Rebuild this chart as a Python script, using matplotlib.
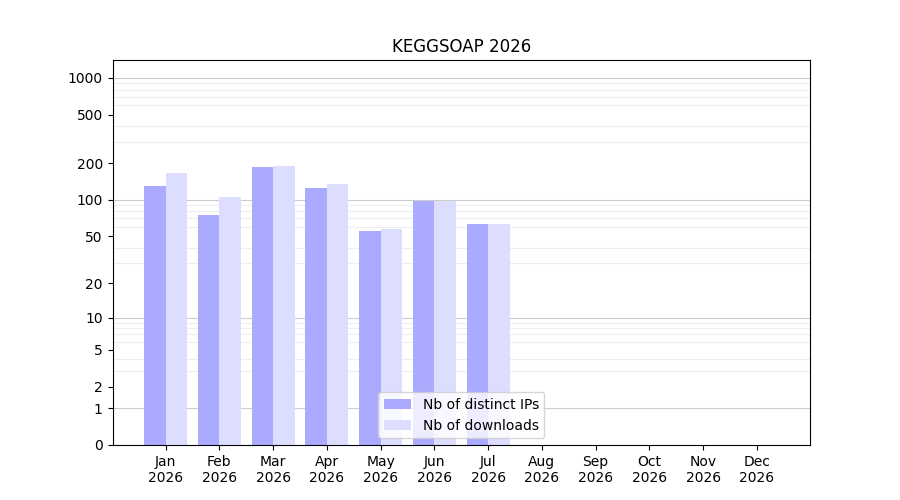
import matplotlib as mpl
import matplotlib.pyplot as plt
import numpy as np

months = ['Jan', 'Feb', 'Mar', 'Apr', 'May', 'Jun', 'Jul', 'Aug', 'Sep', 'Oct', 'Nov', 'Dec']
ips = [130, 75, 185, 125, 55, 97, 63, 0, 0, 0, 0, 0]
downloads = [165, 105, 190, 135, 57, 97, 63, 0, 0, 0, 0, 0]
yticks = [0, 1, 2, 5, 10, 20, 50, 100, 200, 500, 1000]

def fwd(y):
    return np.log10(np.clip(y, 0, None) + 1)

def inv(y):
    return 10 ** y - 1

fig, ax = plt.subplots()
fig.set_size_inches(9, 5)

x = np.arange(len(months))
ax.bar(x - 0.2, ips, width=0.4, color='#aaaaff', label='Nb of distinct IPs')
ax.bar(x + 0.2, downloads, width=0.4, color='#ddddff', label='Nb of downloads')

ax.set_yscale('function', functions=(fwd, inv))
ax.set_ylim(0, 1400)
ax.set_yticks(yticks)
ax.set_yticklabels([str(t) for t in yticks])
minor = [m * 10 ** e for e in range(0, 4) for m in range(2, 10) if m * 10 ** e < 1400]
ax.set_yticks(minor, minor=True)
ax.tick_params(axis='y', which='minor', length=0)
ax.grid(axis='y', which='minor', color='#eeeeee', linewidth=0.8)
for v in [1, 10, 100, 1000]:
    ax.axhline(v, color='#cccccc', linewidth=0.8, zorder=0)
ax.set_axisbelow(True)

ax.set_xticks(x)
ax.set_xticklabels([m + '\n2026' for m in months])
ax.set_title('KEGGSOAP 2026')
ax.legend(loc='lower center')

plt.savefig('out.png', dpi=100)
